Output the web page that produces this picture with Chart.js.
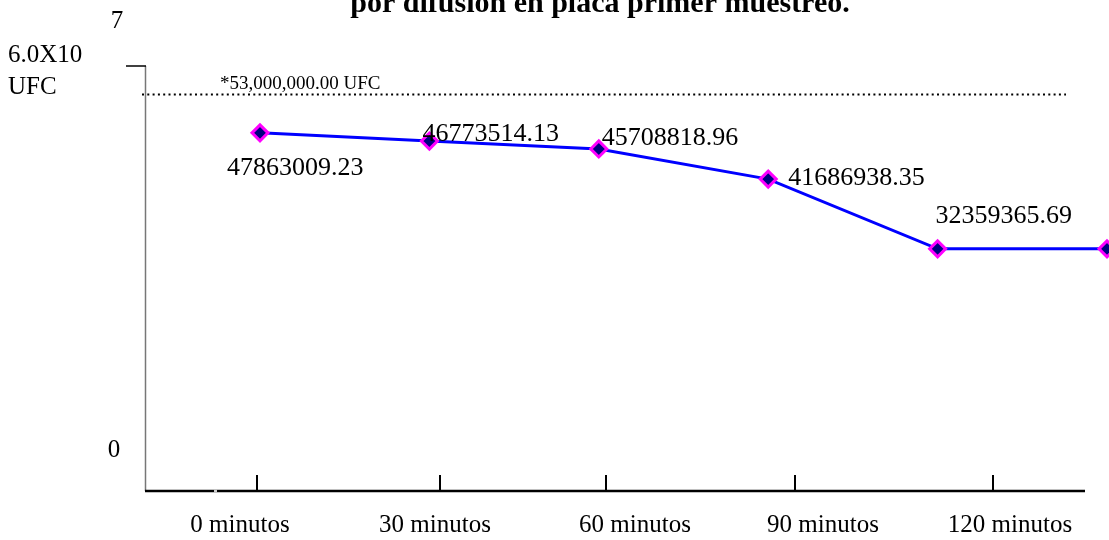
<!DOCTYPE html>
<html>
<head>
<meta charset="utf-8">
<script src="https://cdn.jsdelivr.net/npm/chart.js"></script>
<style>
  body { margin: 0; background: #fff; }
  #caja { width: 1109px; height: 540px; position: relative; }
</style>
</head>
<body>
<div id="caja"><canvas id="grafica"></canvas></div>
<script>
// datos
const tiempos = ["0 minutos", "30 minutos", "60 minutos", "90 minutos", "120 minutos"];
const muestras = [0, 1, 2, 3, 4, 5];
const ufc = [47863009.23, 46773514.13, 45708818.96, 41686938.35, 32359365.69, 32359365.69];
const etiquetasUfc = ["47863009.23", "46773514.13", "45708818.96", "41686938.35", "32359365.69", ""];
const limite = 53000000;
const limiteTexto = "*53,000,000.00 UFC";
const ejeY = { min: 0, max: 56800000 };

const serif = "'Liberation Serif', 'Times New Roman', serif";

// posiciones de las etiquetas de cada punto (desplazamiento desde el punto)
const despl = [[-33, 42], [-7, 0], [3, -4], [20, 6], [-2, -26], [0, 0]];

const finEjeX = 1085;

const dibujos = {
  id: "dibujos",
  beforeDatasetsDraw(chart) {
    const c = chart.ctx;
    const a = chart.chartArea;
    const y = chart.scales.y;
    c.save();
    // eje vertical
    c.strokeStyle = "#777";
    c.lineWidth = 1.5;
    c.beginPath();
    c.moveTo(a.left + 0.5, a.top);
    c.lineTo(a.left + 0.5, a.bottom);
    c.stroke();
    c.strokeStyle = "#000";
    c.beginPath();
    c.moveTo(126, a.top);
    c.lineTo(a.left + 1, a.top);
    c.stroke();
    // eje horizontal
    c.lineWidth = 2.5;
    c.beginPath();
    c.moveTo(a.left, a.bottom);
    c.lineTo(finEjeX, a.bottom);
    c.stroke();
    c.strokeStyle = "#ccc";
    c.beginPath();
    c.moveTo(214, a.bottom);
    c.lineTo(217, a.bottom);
    c.stroke();
    // marcas
    c.strokeStyle = "#000";
    c.lineWidth = 2;
    [257, 440, 606, 795, 993].forEach(px => {
      c.beginPath();
      c.moveTo(px, a.bottom);
      c.lineTo(px, a.bottom - 16);
      c.stroke();
    });
    // linea punteada del limite
    const yl = y.getPixelForValue(limite);
    c.setLineDash([2, 3.3]);
    c.lineWidth = 2;
    c.beginPath();
    c.moveTo(142, yl);
    c.lineTo(1066, yl);
    c.stroke();
    c.setLineDash([]);
    c.restore();
  },
  afterDraw(chart) {
    const c = chart.ctx;
    const meta = chart.getDatasetMeta(0);
    c.save();
    c.fillStyle = "#000";
    c.textBaseline = "alphabetic";

    // titulo (cortado arriba)
    c.font = "bold 30px " + serif;
    c.textAlign = "center";
    c.fillText("por difusión en placa primer muestreo.", 600, 12);

    // textos del eje y
    c.font = "25px " + serif;
    c.fillText("7", 117, 28);
    c.fillText("0", 114, 457);
    c.textAlign = "left";
    c.fillText("6.0X10", 8, 62);
    c.fillText("UFC", 8, 94);

    // etiqueta del limite
    c.font = "19px " + serif;
    c.fillText(limiteTexto, 220, 89);

    // etiquetas del eje x
    c.font = "25px " + serif;
    c.textAlign = "center";
    [240, 435, 635, 823, 1010].forEach((px, i) => {
      c.fillText(tiempos[i], px, 532);
    });

    // valores de cada punto
    c.font = "26px " + serif;
    c.textAlign = "left";
    meta.data.forEach((p, i) => {
      if (!etiquetasUfc[i]) return;
      c.fillText(etiquetasUfc[i], p.x + despl[i][0], p.y + despl[i][1]);
    });
    c.restore();
  }
};

const x0 = 260, paso = 169.4;
const izq = 145, der = 1109;

new Chart(document.getElementById("grafica"), {
  type: "line",
  data: {
    datasets: [{
      data: muestras.map((m, i) => ({ x: m, y: ufc[i] })),
      borderColor: "#0000FF",
      borderWidth: 3,
      pointStyle: "rectRot",
      pointRadius: 8,
      pointBorderWidth: 3,
      pointBorderColor: "#FF00FF",
      pointBackgroundColor: "#000080",
      tension: 0,
      clip: false
    }]
  },
  options: {
    responsive: true,
    maintainAspectRatio: false,
    animation: false,
    layout: { autoPadding: false, padding: { left: izq, right: 1109 - der, top: 66, bottom: 49 } },
    plugins: { legend: { display: false }, tooltip: { enabled: false } },
    scales: {
      x: { type: "linear", display: false, min: (izq - x0) / paso, max: (der - x0) / paso },
      y: { display: false, min: ejeY.min, max: ejeY.max }
    }
  },
  plugins: [dibujos]
});
</script>
</body>
</html>
